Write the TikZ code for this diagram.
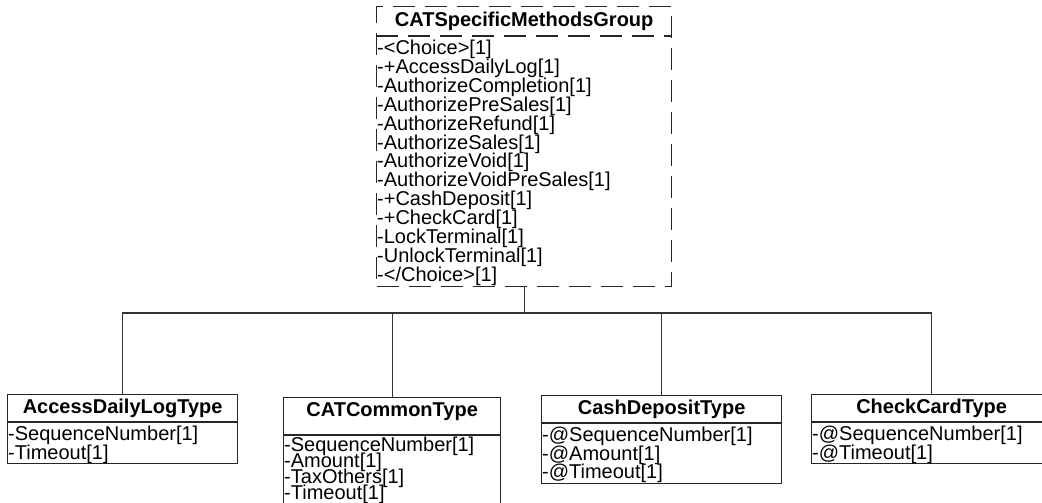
\documentclass[tikz,border=0pt]{standalone}
\usepackage{fontspec}
\setmainfont{Liberation Sans}
\usetikzlibrary{calc,positioning}
\newcommand\tightlines{\lineskiplimit=-20pt\relax}

\begin{document}
\begin{tikzpicture}[x=1pt,y=-1pt,
    classbox/.style={draw=black!85,line width=1.3pt,anchor=north west,inner sep=0pt},
    groupbox/.style={classbox,dash pattern=on 22pt off 10pt},
    sepline/.style={draw=black!85,line width=1.3pt},
    classname/.style={anchor=north,inner sep=0pt,minimum height=28,font=\fontsize{20}{20}\selectfont\bfseries},
    members/.style={anchor=north west,align=left,inner xsep=1pt,inner ysep=3.9pt,
      font=\fontsize{20}{#1}\selectfont\tightlines},
    members/.default=19,
    link/.style={draw=black!80,line width=1.1pt}]
  \clip (0,0) rectangle (1042,503);

  % choice group at the top
  \node[groupbox,minimum width=295,minimum height=280] (group) at (376,6) {};
  \node[classname,minimum height=30] (groupname) at (group.north) {CATSpecificMethodsGroup};
  \coordinate (groupsep) at ($(group.north west)+(0,30)$);
  \draw[sepline,dash pattern=on 22pt off 10pt] (groupsep) -- (groupsep -| group.east);
  \node[members=18.9] (groupitems) at (groupsep) {-<Choice>[1]\\-+AccessDailyLog[1]\\-AuthorizeCompletion[1]\\-AuthorizePreSales[1]\\-AuthorizeRefund[1]\\-AuthorizeSales[1]\\-AuthorizeVoid[1]\\-AuthorizeVoidPreSales[1]\\-+CashDeposit[1]\\-+CheckCard[1]\\-LockTerminal[1]\\-UnlockTerminal[1]\\-</Choice>[1]};

  % types below
  \node[classbox,minimum width=230,minimum height=69] (daily) at (7,394) {};
  \node[classname] (dailyname) at (daily.north) {AccessDailyLogType};
  \coordinate (dailysep) at ($(daily.north west)+(0,28)$);
  \draw[sepline] (dailysep) -- (dailysep -| daily.east);
  \node[members] (dailyitems) at (dailysep) {-SequenceNumber[1]\\-Timeout[1]};

  \node[classbox,minimum width=217,minimum height=112] (common) at (283,397) {};
  \node[classname] (commonname) at (common.north) {CATCommonType};
  \coordinate (commonsep) at ($(common.north west)+(0,38)$);
  \draw[sepline] (commonsep) -- (commonsep -| common.east);
  \node[members=16,inner ysep=1.5pt] (commonitems) at (commonsep) {-SequenceNumber[1]\\-Amount[1]\\-TaxOthers[1]\\-Timeout[1]};

  \node[classbox,minimum width=240,minimum height=88] (cash) at (541,395) {};
  \node[classname] (cashname) at (cash.north) {CashDepositType};
  \coordinate (cashsep) at ($(cash.north west)+(0,28)$);
  \draw[sepline] (cashsep) -- (cashsep -| cash.east);
  \node[members=18.5] (cashitems) at (cashsep) {-@SequenceNumber[1]\\-@Amount[1]\\-@Timeout[1]};

  \node[classbox,minimum width=240,minimum height=69] (check) at (811,394) {};
  \node[classname] (checkname) at (check.north) {CheckCardType};
  \coordinate (checksep) at ($(check.north west)+(0,28)$);
  \draw[sepline] (checksep) -- (checksep -| check.east);
  \node[members=18.5] (checkitems) at (checksep) {-@SequenceNumber[1]\\-@Timeout[1]};

  % connectors
  \coordinate (bus) at (0,313);
  \draw[link] (group.south) -- (group.south |- bus);
  \draw[link] (daily.north) |- (check.north |- bus) -- (check.north);
  \draw[link] (common.north) -- (common.north |- bus);
  \draw[link] (cash.north) -- (cash.north |- bus);
\end{tikzpicture}
\end{document}
